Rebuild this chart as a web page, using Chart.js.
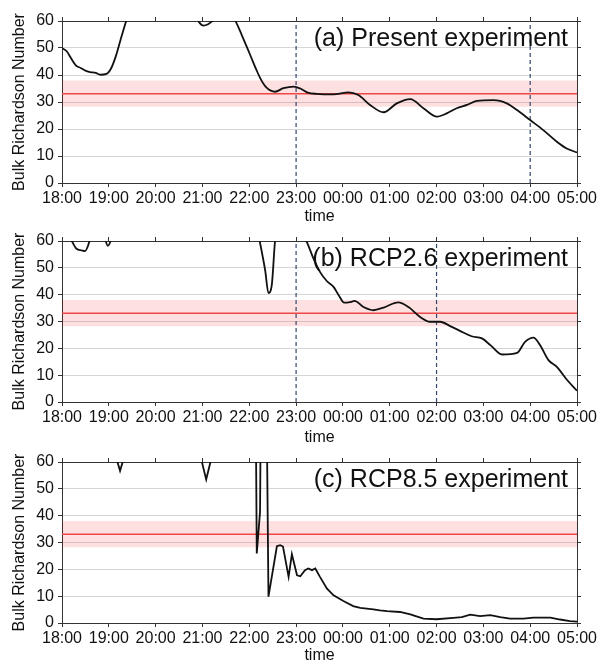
<!DOCTYPE html>
<html>
<head>
<meta charset="utf-8">
<script src="https://cdn.jsdelivr.net/npm/chart.js@4.4.0/dist/chart.umd.min.js"></script>
<style>
  body { margin: 0; background: #fff; width: 604px; height: 665px; position: relative; overflow: hidden; }
  canvas { position: absolute; left: 0; }
</style>
</head>
<body>
<canvas id="panelA" width="604" height="230" style="top:0px"></canvas>
<canvas id="panelB" width="604" height="230" style="top:220px"></canvas>
<canvas id="panelC" width="604" height="224" style="top:441px"></canvas>
<script>
// hours after 18:00
const timeLabels = ['18:00', '19:00', '20:00', '21:00', '22:00', '23:00',
  '00:00', '01:00', '02:00', '03:00', '04:00', '05:00'];

// values above 60 are off the plot (clipped)
const hoursA = [0, 0.1, 0.2, 0.3, 0.4, 0.5, 0.6, 0.72, 0.82, 0.95, 1.05, 1.15, 1.25, 1.38, 1.6, 2.0, 2.5,
  2.85, 2.93, 3.02, 3.12, 3.22, 3.4, 3.6, 3.72, 3.84, 4.02, 4.15, 4.25, 4.37, 4.55, 4.73, 4.95, 5.09,
  5.25, 5.44, 5.8, 6.12, 6.33, 6.58, 6.87, 7.15, 7.44, 7.72, 8.01, 8.22, 8.43, 8.65, 8.86, 9.22, 9.5,
  9.72, 10.0, 10.28, 10.57, 10.78, 11.0];
const ratioA = [50, 48.8, 46, 43.5, 42.6, 41.6, 41.1, 40.8, 40.1, 40.4, 42.5, 47, 53, 60.5, 72, 80, 75,
  62, 59.5, 58.3, 58.8, 60.2, 65, 63, 59.5, 54.8, 47.4, 42, 38.3, 35.3, 33.8, 35.1, 35.7, 35.0,
  33.5, 33.0, 32.8, 33.6, 32.6, 28.9, 26.2, 29.5, 31.1, 27.7, 24.6, 25.8, 27.7, 28.9, 30.4, 30.7, 29.5,
  27, 23.3, 19.6, 15.3, 12.8, 11.3];

const hoursB = [0, 0.15, 0.21, 0.31, 0.42, 0.49, 0.56, 0.6, 0.75, 0.9, 0.98, 1.06, 1.3, 2.5, 4.0, 4.2,
  4.34, 4.41, 4.48, 4.55, 4.7, 5.0, 5.15, 5.23, 5.37, 5.51, 5.66, 5.8, 5.91, 6.03, 6.15, 6.25, 6.44,
  6.65, 6.87, 7.18, 7.4, 7.65, 7.86, 8.08, 8.29, 8.5, 8.75, 8.97, 9.15, 9.4, 9.72, 9.89, 10.07, 10.21,
  10.39, 10.57, 10.78, 11.0];
const ratioB = [70, 62, 60, 57.1, 56.5, 56.2, 58.4, 61, 68, 62, 58.2, 61, 75, 90, 80, 62,
  49, 40.6, 43.5, 60, 80, 80, 62, 59.6, 53.5, 48.5, 45, 42.9, 39.8, 37, 37.2, 37.7, 35.4,
  34.2, 35.2, 37.1, 35.4, 31.7, 29.9, 29.9, 28.3, 26.5, 24.5, 23.7, 21.2, 17.7, 18.3, 22.4, 24, 21.2,
  15.6, 13.1, 8.4, 4.2];

const hoursC = [0, 1.0, 1.15, 1.24, 1.33, 1.6, 2.8, 2.96, 3.08, 3.15, 3.2, 3.5, 4.0, 4.13, 4.16, 4.23,
  4.255, 4.3, 4.36, 4.41, 4.59, 4.66, 4.72, 4.84, 4.91, 5.02, 5.09, 5.19, 5.26, 5.34, 5.41, 5.51, 5.66,
  5.8, 6.01, 6.22, 6.37, 6.65, 6.79, 6.94, 7.22, 7.44, 7.72, 8.0, 8.36, 8.54, 8.72, 8.93, 9.15, 9.36,
  9.57, 9.86, 10.07, 10.43, 10.64, 10.85, 11.0];
const ratioC = [80, 75, 62, 56.7, 62, 75, 75, 62, 53.5, 58.5, 62, 80, 90, 100, 25.9, 41.4,
  100, 100, 100, 9.8, 28.6, 29, 28.5, 17.2, 25.6, 17.8, 17.4, 19.7, 20.3, 19.7, 20.3, 17.2, 12.8,
  10.3, 8.2, 6.3, 5.6, 5.1, 4.7, 4.4, 4.1, 3.2, 1.6, 1.4, 1.9, 2.2, 3.1, 2.6, 2.9, 2.2,
  1.6, 1.6, 2.0, 2.0, 1.3, 0.7, 0.5];

const dashA = [5, 10];
const dashB = [5, 8];
const dashC = [];

const criticalRi = 33.1;
const bandLow = 28.2;
const bandHigh = 38.0;

const fontFamily = '"Liberation Sans", Arial, sans-serif';
Chart.defaults.font.family = fontFamily;
Chart.defaults.color = '#111';

const panelLabel = {
  id: 'panelLabel',
  afterDatasetsDraw(chart, args, opts) {
    const { ctx, chartArea } = chart;
    ctx.save();
    ctx.font = '25px ' + fontFamily;
    ctx.fillStyle = '#111';
    ctx.textAlign = 'right';
    ctx.textBaseline = 'alphabetic';
    ctx.fillText(opts.text, chartArea.right - 9, chartArea.top + 25);
    ctx.restore();
  }
};

function makePanel(id, label, hours, ratio, dashes, box) {
  const curve = {
    data: hours.map((h, i) => ({ x: h, y: ratio[i] })),
    borderColor: '#111',
    borderWidth: 1.8,
    pointRadius: 0,
    fill: false
  };
  if (box.smooth) curve.cubicInterpolationMode = 'monotone';
  else curve.tension = 0;
  const datasets = [curve];
  dashes.forEach(h => datasets.push({
    data: [{ x: h, y: 0 }, { x: h, y: 60 }],
    borderColor: '#33476b',
    borderWidth: 1.2,
    borderDash: [4, 3],
    pointRadius: 0,
    fill: false
  }));
  datasets.push({
    data: [{ x: 0, y: criticalRi }, { x: 11, y: criticalRi }],
    borderColor: 'rgb(238,70,70)',
    borderWidth: 1.5,
    pointRadius: 0,
    fill: false
  });
  datasets.push({
    data: [{ x: 0, y: bandHigh }, { x: 11, y: bandHigh }],
    borderWidth: 0,
    pointRadius: 0,
    backgroundColor: 'rgba(255,0,0,0.12)',
    fill: { value: bandLow }
  });
  datasets.forEach(d => { d.xAxisID = 'x'; d.yAxisID = 'y'; });

  const tickStyle = { drawOnChartArea: false, tickLength: 4, tickColor: '#333' };

  new Chart(document.getElementById(id), {
    type: 'line',
    data: { datasets },
    options: {
      responsive: false,
      animation: false,
      events: [],
      layout: { padding: 0 },
      plugins: { legend: { display: false }, tooltip: { enabled: false }, panelLabel: { text: label } },
      scales: {
        x: {
          type: 'linear', position: 'bottom', min: 0, max: 11,
          ticks: { stepSize: 1, autoSkip: false, maxRotation: 0, padding: 2, font: { size: 16 },
            callback: v => timeLabels[v] },
          grid: tickStyle,
          border: { color: '#333' },
          title: { display: true, text: 'time', font: { size: 16 }, padding: { top: 0, bottom: box.titlePad } },
          afterFit: s => { s.height = box.height - box.top - box.plotH; }
        },
        xTop: {
          type: 'linear', position: 'top', min: 0, max: 11,
          ticks: { stepSize: 1, display: false },
          grid: tickStyle,
          border: { color: '#333' },
          afterFit: s => { s.height = box.top; }
        },
        y: {
          type: 'linear', position: 'left', min: 0, max: 60,
          ticks: { stepSize: 10, padding: 4, font: { size: 16 } },
          grid: { color: '#d6d6d6', tickLength: 4, tickColor: '#333' },
          border: { color: '#333' },
          title: { display: true, text: 'Bulk Richardson Number', font: { size: 16 }, padding: { top: 9.5, bottom: 0 } },
          afterFit: s => { s.width = 62; }
        },
        yRight: {
          type: 'linear', position: 'right', min: 0, max: 60,
          ticks: { stepSize: 10, display: false },
          grid: tickStyle,
          border: { color: '#333' },
          afterFit: s => { s.width = 27; }
        }
      }
    },
    plugins: [panelLabel]
  });
}

makePanel('panelA', '(a) Present experiment', hoursA, ratioA, dashA, { height: 230, top: 21, plotH: 162, titlePad: 3.4, smooth: true });
makePanel('panelB', '(b) RCP2.6 experiment', hoursB, ratioB, dashB, { height: 230, top: 21, plotH: 161, titlePad: 2.4, smooth: true });
makePanel('panelC', '(c) RCP8.5 experiment', hoursC, ratioC, dashC, { height: 224, top: 21, plotH: 161, titlePad: 0, smooth: false });
</script>
</body>
</html>
